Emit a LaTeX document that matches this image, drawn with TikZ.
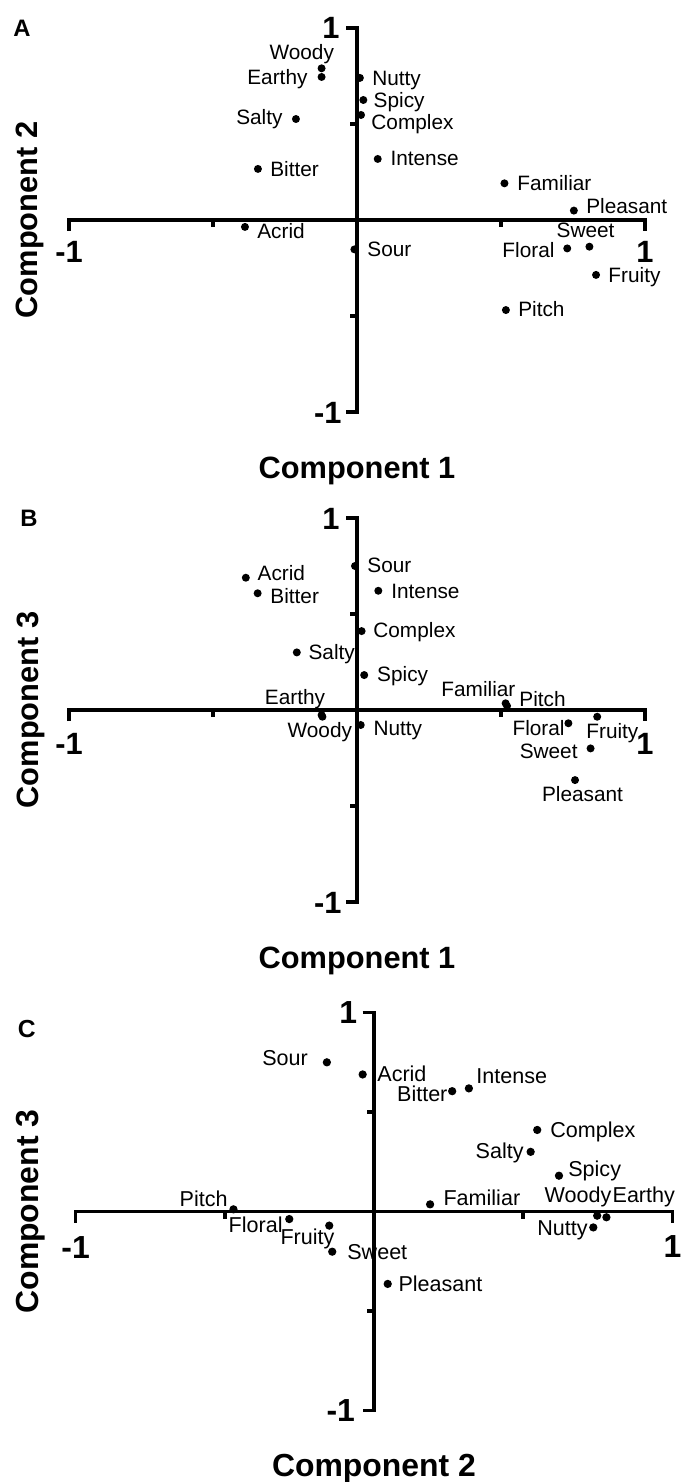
\documentclass[tikz,border=0pt]{standalone}
\usepackage{fontspec}
\setmainfont{Liberation Sans}
\usetikzlibrary{positioning}

\tikzset{
  plot/.style={x=144pt, y=96pt},
  axis/.style={line width=1.9pt, line join=miter},
  dot/.style={circle, fill, inner sep=0pt, minimum size=4pt},
  lbl/.style={font=\fontsize{10.4}{12}\selectfont, inner sep=0pt, text height=7.45pt, text depth=0pt},
  ticklbl/.style={font=\fontsize{15.4}{18}\selectfont\bfseries, inner sep=0pt, text height=11pt, text depth=0pt},
  title/.style={font=\fontsize{15.4}{18}\selectfont\bfseries, inner sep=0pt, text height=11pt, text depth=0pt},
  tag/.style={font=\fontsize{11.9}{14}\selectfont\bfseries, inner sep=0pt, text height=8.5pt, text depth=0pt},
}

\begin{document}
\begin{tikzpicture}
\useasboundingbox (0,0) rectangle (340pt,-741pt);

% A: component 1 vs component 2
\begin{scope}[plot, shift={(178.5pt,-110pt)}]
\coordinate (xlA) at (-1,0);
\coordinate (xrA) at (1,0);
\coordinate (ytA) at (0,1);
\coordinate (ybA) at (0,-1);
\draw[axis] ([yshift=-5.5pt]xlA) -- (xlA) -- (xrA) -- ([yshift=-5.5pt]xrA);
\draw[axis] ([xshift=-5.5pt]ytA) -- (ytA) -- (ybA) -- ([xshift=-5.5pt]ybA);
\foreach \t in {-0.5,0.5} {
  \draw[axis] (\t,0) -- ++(0,-3.5pt);
  \draw[axis] (0,\t) -- ++(-3.5pt,0);
}
\node[ticklbl, left=8.5pt of ytA] (ytAl) {1};
\node[ticklbl, left=7.5pt of ybA] (ybAl) {-1};
\node[ticklbl, below=10pt of xlA] (xlAl) {-1};
\node[ticklbl, below=10pt of xrA] (xrAl) {1};
\node[title] (xtitleA) at (0pt,-123.5pt) {Component 1};
\node[title, rotate=90] (ytitleA) at (-165.5pt,0pt) {Component 2};
\node[tag] (tagA) at (-167.5pt,96pt) {A};

\node[dot] (woodyA) at (-0.123,0.79) {};
\node[dot] (earthyA) at (-0.123,0.745) {};
\node[dot] (saltyA) at (-0.212,0.526) {};
\node[dot] (bitterA) at (-0.344,0.266) {};
\node[dot] (acridA) at (-0.389,-0.036) {};
\node[dot] (sourA) at (-0.009,-0.153) {};
\node[dot] (nuttyA) at (0.010,0.74) {};
\node[dot] (spicyA) at (0.022,0.625) {};
\node[dot] (complexA) at (0.014,0.547) {};
\node[dot] (intenseA) at (0.072,0.318) {};
\node[dot] (familiarA) at (0.512,0.191) {};
\node[dot] (pleasantA) at (0.753,0.049) {};
\node[dot] (sweetA) at (0.807,-0.139) {};
\node[dot] (floralA) at (0.730,-0.148) {};
\node[dot] (fruityA) at (0.830,-0.286) {};
\node[dot] (pitchA) at (0.517,-0.469) {};

\node[lbl, above=4.3pt of woodyA.center, xshift=-9.9pt] (woodyAt) {Woody};
\node[lbl, left=6.85pt of earthyA.center] (earthyAt) {Earthy};
\node[lbl, left=6.5pt of saltyA.center, yshift=1pt] (saltyAt) {Salty};
\node[lbl, right=6pt of bitterA.center] (bitterAt) {Bitter};
\node[lbl, right=6pt of acridA.center, yshift=-2pt] (acridAt) {Acrid};
\node[lbl, right=6.3pt of sourA.center] (sourAt) {Sour};
\node[lbl, right=6pt of nuttyA.center] (nuttyAt) {Nutty};
\node[lbl, right=5pt of spicyA.center] (spicyAt) {Spicy};
\node[lbl, right=5pt of complexA.center, yshift=-3.3pt] (complexAt) {Complex};
\node[lbl, right=6.2pt of intenseA.center, yshift=0.5pt] (intenseAt) {Intense};
\node[lbl, right=6.3pt of familiarA.center] (familiarAt) {Familiar};
\node[lbl, right=6pt of pleasantA.center, yshift=2.3pt] (pleasantAt) {Pleasant};
\node[lbl, above=4.15pt of sweetA.center, xshift=-1.9pt] (sweetAt) {Sweet};
\node[lbl, left=6.2pt of floralA.center, yshift=-0.8pt] (floralAt) {Floral};
\node[lbl, right=6pt of fruityA.center, yshift=0pt] (fruityAt) {Fruity};
\node[lbl, right=6pt of pitchA.center, yshift=0.5pt] (pitchAt) {Pitch};
\end{scope}

% B: component 1 vs component 3
\begin{scope}[plot, shift={(178.5pt,-355pt)}]
\coordinate (xlB) at (-1,0);
\coordinate (xrB) at (1,0);
\coordinate (ytB) at (0,1);
\coordinate (ybB) at (0,-1);
\draw[axis] ([yshift=-5.5pt]xlB) -- (xlB) -- (xrB) -- ([yshift=-5.5pt]xrB);
\draw[axis] ([xshift=-5.5pt]ytB) -- (ytB) -- (ybB) -- ([xshift=-5.5pt]ybB);
\foreach \t in {-0.5,0.5} {
  \draw[axis] (\t,0) -- ++(0,-3.5pt);
  \draw[axis] (0,\t) -- ++(-3.5pt,0);
}
\node[ticklbl, left=8.5pt of ytB] (ytBl) {1};
\node[ticklbl, left=7.5pt of ybB] (ybBl) {-1};
\node[ticklbl, below=11pt of xlB] (xlBl) {-1};
\node[ticklbl, below=11pt of xrB] (xrBl) {1};
\node[title] (xtitleB) at (0pt,-123.5pt) {Component 1};
\node[title, rotate=90] (ytitleB) at (-164.5pt,0pt) {Component 3};
\node[tag] (tagB) at (-164pt,96pt) {B};

\node[dot] (acridB) at (-0.386,0.689) {};
\node[dot] (bitterB) at (-0.345,0.608) {};
\node[dot] (saltyB) at (-0.209,0.300) {};
\node[dot] (earthyB) at (-0.123,-0.026) {};
\node[dot] (woodyB) at (-0.120,-0.035) {};
\node[dot] (sourB) at (-0.007,0.75) {};
\node[dot] (intenseB) at (0.074,0.621) {};
\node[dot] (complexB) at (0.016,0.411) {};
\node[dot] (spicyB) at (0.025,0.182) {};
\node[dot] (familiarB) at (0.516,0.035) {};
\node[dot] (pitchB) at (0.521,0.021) {};
\node[dot] (nuttyB) at (0.013,-0.078) {};
\node[dot] (floralB) at (0.734,-0.069) {};
\node[dot] (fruityB) at (0.834,-0.035) {};
\node[dot] (sweetB) at (0.811,-0.2) {};
\node[dot] (pleasantB) at (0.757,-0.365) {};

\node[lbl, right=5.7pt of acridB.center, yshift=2.3pt] (acridBt) {Acrid};
\node[lbl, right=6.2pt of bitterB.center, yshift=-1.3pt] (bitterBt) {Bitter};
\node[lbl, right=5.7pt of saltyB.center] (saltyBt) {Salty};
\node[lbl, above=4.8pt of earthyB.center, xshift=-13.3pt] (earthyBt) {Earthy};
\node[lbl, below=2.8pt of woodyB.center, xshift=-1.3pt] (woodyBt) {Woody};
\node[lbl, right=6pt of sourB.center, yshift=0.5pt] (sourBt) {Sour};
\node[lbl, right=6.3pt of intenseB.center] (intenseBt) {Intense};
\node[lbl, right=5.7pt of complexB.center, yshift=0.5pt] (complexBt) {Complex};
\node[lbl, right=6.3pt of spicyB.center, yshift=0.5pt] (spicyBt) {Spicy};
\node[lbl, above=3.3pt of familiarB.center, xshift=-13.6pt] (familiarBt) {Familiar};
\node[lbl, right=6pt of pitchB.center, yshift=3.5pt] (pitchBt) {Pitch};
\node[lbl, right=6.2pt of nuttyB.center, yshift=-1.5pt] (nuttyBt) {Nutty};
\node[lbl, left=1.7pt of floralB.center, yshift=-2.3pt] (floralBt) {Floral};
\node[lbl, below=3.3pt of fruityB.center, xshift=7.6pt] (fruityBt) {Fruity};
\node[lbl, left=6.3pt of sweetB.center, yshift=-1.3pt] (sweetBt) {Sweet};
\node[lbl, below=3.3pt of pleasantB.center, xshift=3.75pt] (pleasantBt) {Pleasant};
\end{scope}

% C: component 2 vs component 3
\begin{scope}[plot, shift={(187pt,-605.75pt)}, scale=1.036, transform shape]
\coordinate (xlC) at (-1,0);
\coordinate (xrC) at (1,0);
\coordinate (ytC) at (0,1);
\coordinate (ybC) at (0,-1);
\draw[axis] ([yshift=-5.5pt]xlC) -- (xlC) -- (xrC) -- ([yshift=-5.5pt]xrC);
\draw[axis] ([xshift=-5.5pt]ytC) -- (ytC) -- (ybC) -- ([xshift=-5.5pt]ybC);
\foreach \t in {-0.5,0.5} {
  \draw[axis] (\t,0) -- ++(0,-3.5pt);
  \draw[axis] (0,\t) -- ++(-3.5pt,0);
}
\node[ticklbl, left=8pt of ytC] (ytCl) {1};
\node[ticklbl, left=9pt of ybC] (ybCl) {-1};
\node[ticklbl, below=11.6pt of xlC] (xlCl) {-1};
\node[ticklbl, below=11pt of xrC] (xrCl) {1};
\node[title] (xtitleC) at (0pt,-122.3pt) {Component 2};
\node[title, rotate=90] (ytitleC) at (-167.6pt,0pt) {Component 3};
\node[tag] (tagC) at (-167.6pt,88.4pt) {C};

\node[dot] (sourC) at (-0.158,0.75) {};
\node[dot] (acridC) at (-0.038,0.689) {};
\node[dot] (bitterC) at (0.262,0.605) {};
\node[dot] (intenseC) at (0.318,0.619) {};
\node[dot] (complexC) at (0.547,0.41) {};
\node[dot] (saltyC) at (0.525,0.30) {};
\node[dot] (spicyC) at (0.620,0.18) {};
\node[dot] (familiarC) at (0.188,0.036) {};
\node[dot] (woodyC) at (0.748,-0.021) {};
\node[dot] (earthyC) at (0.779,-0.029) {};
\node[dot] (nuttyC) at (0.735,-0.080) {};
\node[dot] (pleasantC) at (0.046,-0.364) {};
\node[dot] (sweetC) at (-0.140,-0.202) {};
\node[dot] (pitchC) at (-0.471,0.011) {};
\node[dot] (floralC) at (-0.284,-0.038) {};
\node[dot] (fruityC) at (-0.150,-0.071) {};

\node[lbl, left=9pt of sourC.center, yshift=2.1pt] (sourCt) {Sour};
\node[lbl, right=6.9pt of acridC.center, yshift=0.5pt] (acridCt) {Acrid};
\node[lbl, left=2.1pt of bitterC.center, yshift=-1.1pt] (bitterCt) {Bitter};
\node[lbl, right=3.4pt of intenseC.center, yshift=6pt] (intenseCt) {Intense};
\node[lbl, right=6.1pt of complexC.center] (complexCt) {Complex};
\node[lbl, left=3.2pt of saltyC.center, yshift=0.5pt] (saltyCt) {Salty};
\node[lbl, right=4.3pt of spicyC.center, yshift=3.1pt] (spicyCt) {Spicy};
\node[lbl, right=6.3pt of familiarC.center, yshift=3.1pt] (familiarCt) {Familiar};
\node[lbl, above=6.2pt of woodyC.center, xshift=-9.3pt] (woodyCt) {Woody};
\node[lbl, above=6.9pt of earthyC.center, xshift=18pt] (earthyCt) {Earthy};
\node[lbl, left=2.6pt of nuttyC.center] (nuttyCt) {Nutty};
\node[lbl, right=5pt of pleasantC.center] (pleasantCt) {Pleasant};
\node[lbl, right=7.1pt of sweetC.center] (sweetCt) {Sweet};
\node[lbl, left=2.6pt of pitchC.center, yshift=5.3pt] (pitchCt) {Pitch};
\node[lbl, left=3pt of floralC.center, yshift=-2.8pt] (floralCt) {Floral};
\node[lbl, below=1.4pt of fruityC.center, xshift=-10.5pt] (fruityCt) {Fruity};
\end{scope}
\end{tikzpicture}
\end{document}
